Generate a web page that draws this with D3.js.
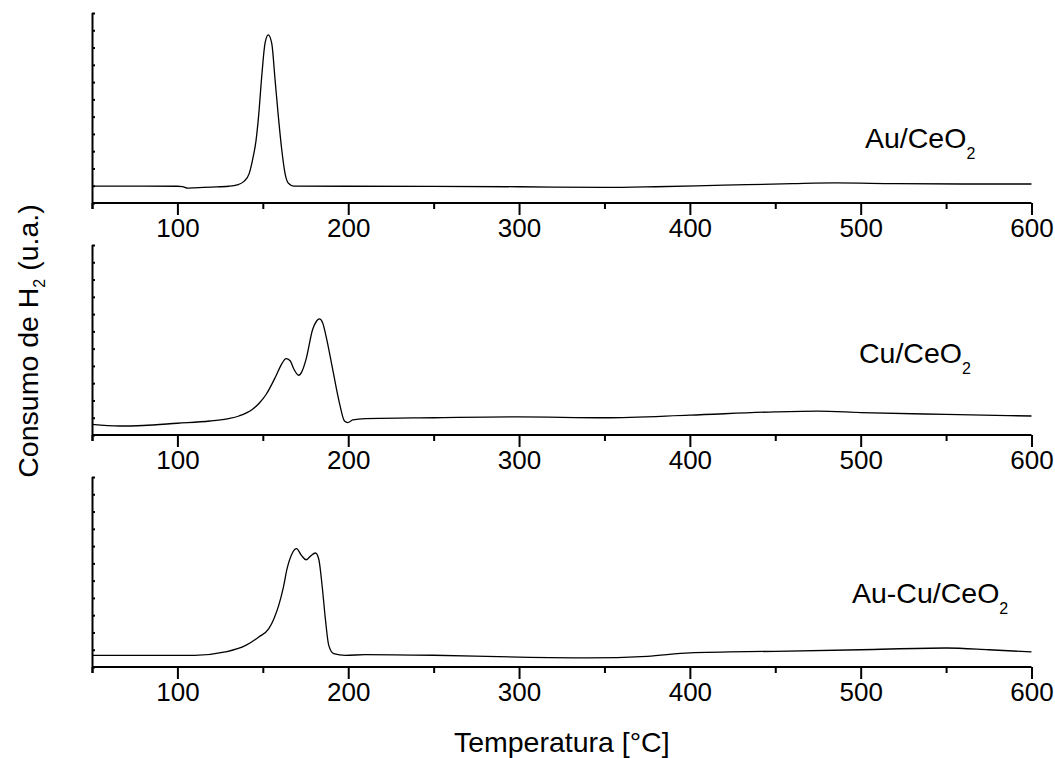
<!DOCTYPE html>
<html>
<head>
<meta charset="utf-8">
<script src="https://cdn.jsdelivr.net/npm/d3@7"></script>
<style>
  body { margin: 0; background: #fff; }
  text { font-family: "Liberation Sans", Arial, sans-serif; fill: #000; }
</style>
</head>
<body>
<script>
// temperature [°C] and H2 consumption (a.u.)
var auT = [50, 80, 100, 103, 106, 110, 120, 130, 135, 139, 142, 144, 146, 147.5, 149.5, 151.3, 153.2, 155.2, 157.2, 159.1, 161.1, 163, 165, 168, 200, 250, 300, 350, 380, 420, 460, 485, 520, 560, 600];
var auY = [0.98, 0.98, 0.97, 0.95, 0.86, 0.88, 0.92, 0.97, 1.05, 1.25, 1.7, 2.5, 3.6, 5.0, 7.5, 9.25, 9.73, 9.25, 7.1, 5.0, 3.07, 1.72, 1.14, 0.98, 0.97, 0.96, 0.94, 0.9, 0.94, 1.03, 1.12, 1.16, 1.12, 1.1, 1.1];

var cuT = [50, 66, 80, 100, 119, 130, 136, 144, 148, 152, 157.7, 161, 163.6, 166, 168, 171, 173, 175.3, 179.2, 181.5, 183.1, 185, 187, 190.9, 194.8, 197.8, 199.7, 202.7, 210, 250, 300, 350, 400, 450, 475, 500, 550, 600];
var cuY = [0.62, 0.52, 0.55, 0.68, 0.81, 0.95, 1.1, 1.49, 1.85, 2.36, 3.42, 4.1, 4.42, 4.3, 3.85, 3.46, 3.7, 4.38, 6.12, 6.6, 6.72, 6.5, 5.73, 3.8, 1.88, 0.81, 0.72, 0.87, 0.95, 1.0, 1.05, 1.0, 1.15, 1.34, 1.38, 1.3, 1.19, 1.1];

var aucuT = [50, 90, 110, 128, 140, 147.6, 153.5, 156.5, 159.3, 162, 164.2, 167.1, 169.7, 172.6, 175.3, 177.9, 180.8, 182.7, 184.7, 186.6, 188.6, 191.5, 198.3, 210, 250, 300, 340, 375, 400, 450, 500, 550, 575, 600];
var aucuY = [0.67, 0.67, 0.67, 0.87, 1.25, 1.74, 2.22, 2.8, 3.57, 4.6, 5.69, 6.56, 6.85, 6.46, 6.21, 6.42, 6.6, 6.27, 4.72, 2.8, 1.25, 0.77, 0.67, 0.72, 0.68, 0.57, 0.53, 0.62, 0.82, 0.91, 1.0, 1.1, 1.0, 0.87];

var seriesNames = ["Au/CeO", "Cu/CeO", "Au-Cu/CeO"];
var xMajorTicks = [100, 200, 300, 400, 500, 600];
var xMinorTicks = [50, 150, 250, 350, 450, 550];
var yTicks = [0, 1, 2, 3, 4, 5, 6, 7, 8, 9, 10, 11];
var xTitle = "Temperatura [°C]";

var W = 1055, H = 758;
var left = 92, right = 1031.5, ph = 190;
var tops = [13, 245, 477];
var labelPos = [[865, 148], [859, 363], [852, 603]];

var svg = d3.select("body").append("svg")
    .attr("width", W)
    .attr("height", H);

var x = d3.scaleLinear().domain([50, 600]).range([left, right]);
var y = d3.scaleLinear().domain([0, 11]).range([ph, 0]);

var data = [
    d3.zip(auT, auY),
    d3.zip(cuT, cuY),
    d3.zip(aucuT, aucuY)
];

var line = d3.line()
    .x(function(d){ return x(d[0]); })
    .y(function(d){ return y(d[1]); })
    .curve(d3.curveMonotoneX);

data.forEach(function(pts, i){
    var g = svg.append("g").attr("transform", "translate(0," + tops[i] + ")");

    g.append("path")
        .datum(pts)
        .attr("d", line)
        .attr("fill", "none")
        .attr("stroke", "#000")
        .attr("stroke-width", 1.3);

    // x axis, major ticks with labels
    var xa = g.append("g")
        .attr("transform", "translate(0," + ph + ")")
        .call(d3.axisBottom(x).tickValues(xMajorTicks).tickSize(12).tickPadding(4).tickFormat(d3.format("d")));
    // minor ticks
    var xm = g.append("g")
        .attr("transform", "translate(0," + ph + ")")
        .call(d3.axisBottom(x).tickValues(xMinorTicks).tickSize(6).tickFormat(""));
    // y axis, inward ticks, no labels
    var ya = g.append("g")
        .attr("transform", "translate(" + left + ",0)")
        .call(d3.axisRight(y).tickValues(yTicks).tickSize(3).tickFormat(""));

    [xa, xm, ya].forEach(function(a){
        a.select(".domain").attr("stroke", "#000").attr("stroke-width", 2);
        a.selectAll(".tick line").attr("stroke", "#000").attr("stroke-width", 2);
    });
    xm.select(".domain").remove();
    ya.select(".domain").attr("d", "M0.5," + (ph + 6) + "V0");
    xa.select(".domain").attr("d", "M" + left + ",0H" + right);
    xa.selectAll(".tick text")
        .attr("font-size", 26)
        .attr("font-family", "Liberation Sans, Arial, sans-serif")
        .attr("fill", "#000");

    var t = svg.append("text")
        .attr("x", labelPos[i][0])
        .attr("y", labelPos[i][1])
        .attr("font-size", 28.5);
    t.append("tspan").text(seriesNames[i]);
    t.append("tspan").attr("font-size", 16).attr("dy", 11).text("2");
});

svg.append("text")
    .attr("x", (left + right) / 2)
    .attr("y", 752)
    .attr("text-anchor", "middle")
    .attr("font-size", 28.5)
    .text(xTitle);

var yt = svg.append("text")
    .attr("transform", "translate(38,341) rotate(-90)")
    .attr("text-anchor", "middle")
    .attr("font-size", 28.5);
yt.append("tspan").text("Consumo de H");
yt.append("tspan").attr("font-size", 16).attr("dy", 7).text("2");
yt.append("tspan").attr("dy", -7).text(" (u.a.)");
</script>
</body>
</html>
